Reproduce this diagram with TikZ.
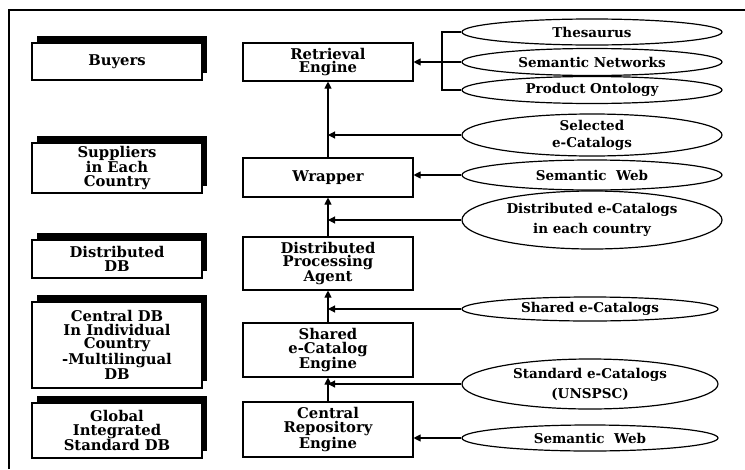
\documentclass[tikz,border=0pt]{standalone}
\usepackage{fontspec}
\setmainfont{DejaVu Serif}
\usetikzlibrary{shapes.geometric,arrows.meta,shadows}
\begin{document}
\begin{tikzpicture}[x=1pt,y=-1pt,
  ln/.style={line width=1.1pt},
  box/.style={draw,line width=1.1pt,fill=white,minimum width=170pt,inner sep=0pt,align=center,
    font=\bfseries\fontsize{14.8}{13.6}\selectfont},
  sbox/.style={box,drop shadow={shadow xshift=5pt,shadow yshift=7pt,opacity=1,fill=black}},
  ell/.style={ellipse,draw,line width=1.2pt,inner sep=0pt,minimum width=260pt},
  lab/.style={align=center,inner sep=0pt,font=\bfseries\fontsize{13.5}{20}\selectfont},
  arr/.style={line width=1.1pt,-{Triangle[length=7pt,width=7pt]}}]
\useasboundingbox (0,0) rectangle (745,469);
\draw[ln] (9,469) -- (9,10) -- (745,10);
% left boxes
\node[sbox,minimum height=37pt] (buy) at (117,61.5) {Buyers};
\node[sbox,minimum height=50pt] (sup) at (117,168) {Suppliers\\in Each\\Country};
\node[sbox,minimum height=38pt] (ddb) at (117,259) {Distributed\\DB};
\node[sbox,minimum height=86pt] (cdb) at (117,345) {Central DB\\In Individual\\Country\\-Multilingual\\DB};
\node[sbox,minimum height=55pt] (gdb) at (117,430.5) {Global\\Integrated\\Standard DB};
% middle boxes
\node[box,minimum height=38pt] (ret) at (328,62) {Retrieval\\Engine};
\node[box,minimum height=39pt] (wr) at (328,177.5) {Wrapper};
\node[box,minimum height=53pt] (dpa) at (328,263.5) {Distributed\\Processing\\Agent};
\node[box,minimum height=54pt] (sh) at (328,350) {Shared\\e-Catalog\\Engine};
\node[box,minimum height=55pt] (crp) at (328,429.5) {Central\\Repository\\Engine};
% ellipses
\node[ell,minimum height=26pt,label={[lab]center:Thesaurus}] (the) at (592,32) {};
\node[ell,minimum height=27pt,label={[lab]center:Semantic Networks}] (sn) at (592,62) {};
\node[ell,minimum height=27pt,label={[lab]center:Product Ontology}] (po) at (592,90) {};
\node[ell,minimum height=42pt,label={[lab,font=\bfseries\fontsize{13.5}{17}\selectfont]center:Selected\\e-Catalogs}] (sel) at (592,135) {};
\node[ell,minimum height=30pt,label={[lab]center:Semantic~~Web}] (sw1) at (592,175) {};
\node[ell,minimum height=58pt,label={[lab]center:Distributed e-Catalogs\\in each country}] (dec) at (592,220) {};
\node[ell,minimum height=24pt,minimum width=256pt,label={[lab]center:Shared e-Catalogs}] (she) at (590,309) {};
\node[ell,minimum height=50pt,minimum width=256pt,label={[lab]center:Standard e-Catalogs\\(UNSPSC)}] (std) at (590,384) {};
\node[ell,minimum height=26pt,minimum width=256pt,label={[lab]center:Semantic~~Web}] (sw2) at (590,438) {};
% bracket
\coordinate (br) at (442,62);
\draw[ln] (the.west) -- (the.west -| br) -- (po.west -| br) -- (po.west);
\draw[ln] (sn.west) -- (sn.west -| br);
\draw[arr] (br) -- (br -| ret.east);
% vertical arrows
\draw[arr] (wr.north) -- (ret.south);
\draw[arr] (dpa.north) -- (wr.south);
\draw[arr] (sh.north) -- (dpa.south);
\draw[arr] (crp.north) -- (sh.south);
% horizontal arrows
\draw[arr] (sel.west) -- (sel.west -| ret.south);
\draw[arr] (sw1.west) -- (sw1.west -| wr.east);
\draw[arr] (dec.west) -- (dec.west -| wr.south);
\draw[arr] (she.west) -- (she.west -| dpa.south);
\draw[arr] (std.west) -- (std.west -| sh.south);
\draw[arr] (sw2.west) -- (sw2.west -| crp.east);
\end{tikzpicture}
\end{document}
